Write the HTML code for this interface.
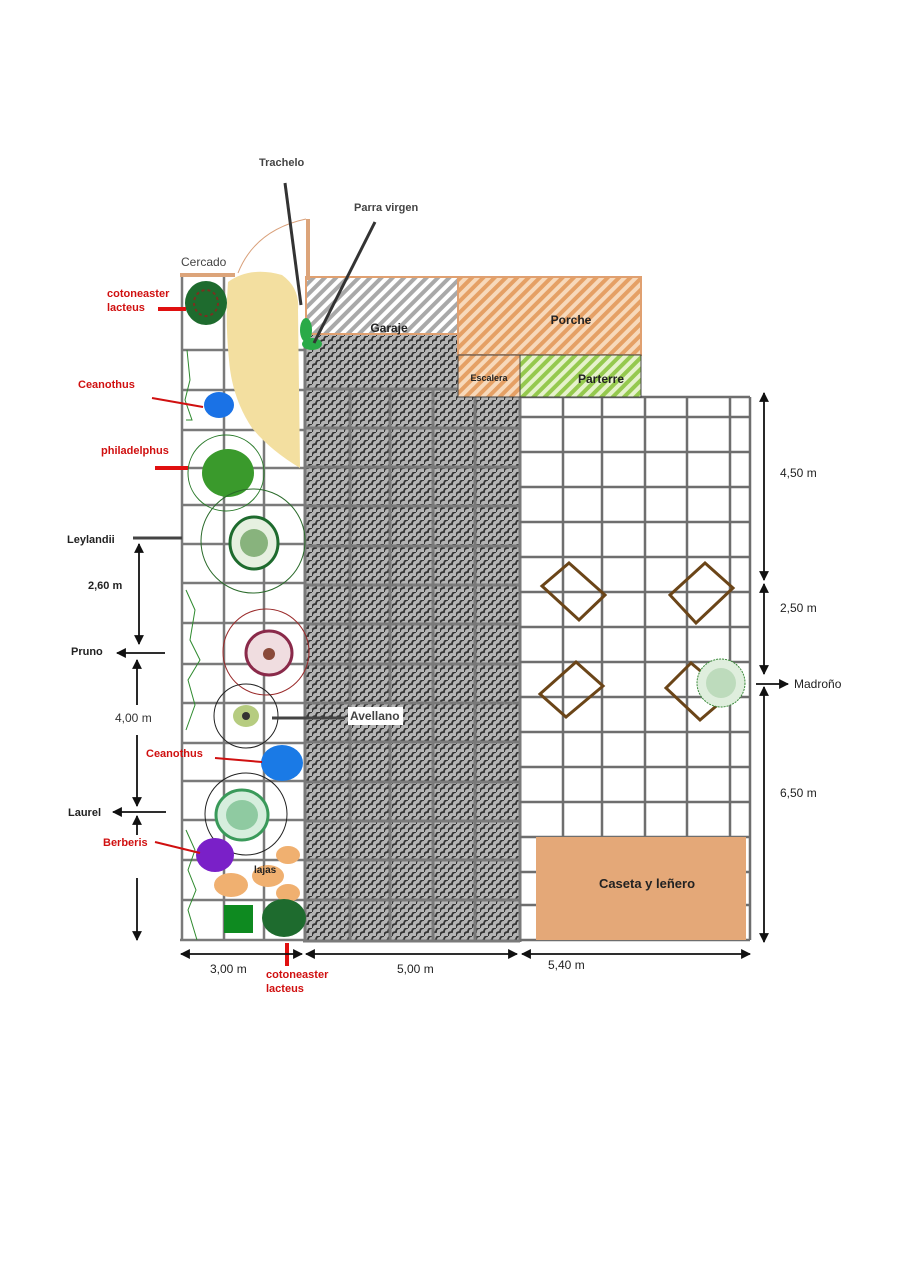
<!DOCTYPE html>
<html><head><meta charset="utf-8"><style>
html,body{margin:0;padding:0;background:#fff;}
svg{display:block;}
text{font-family:"Liberation Sans",sans-serif;}
</style></head><body>
<svg width="900" height="1273" viewBox="0 0 900 1273" xmlns="http://www.w3.org/2000/svg">
<defs>
<pattern id="pav" width="8" height="8" patternUnits="userSpaceOnUse">
<rect width="8" height="8" fill="#b4b4b4"/>
<path d="M0 8 Q0 4 4 4 Q4 0 8 0" fill="none" stroke="#333" stroke-width="1.8"/>
</pattern>
<pattern id="hgray" width="8" height="8" patternUnits="userSpaceOnUse" patternTransform="rotate(45)">
<rect width="8" height="8" fill="#fff"/><rect width="4" height="8" fill="#a9a9a9"/>
</pattern>
<pattern id="horange" width="8" height="8" patternUnits="userSpaceOnUse" patternTransform="rotate(45)">
<rect width="8" height="8" fill="#f7d9bb"/><rect width="4" height="8" fill="#e5a065"/>
</pattern>
<pattern id="hgreen" width="8" height="8" patternUnits="userSpaceOnUse" patternTransform="rotate(45)">
<rect width="8" height="8" fill="#e6f2cc"/><rect width="4" height="8" fill="#95c94e"/>
</pattern>
<marker id="ar" viewBox="0 0 10 10" refX="9" refY="5" markerWidth="5.5" markerHeight="5.5" orient="auto-start-reverse"><path d="M0 0L10 5L0 10z" fill="#111"/></marker>
</defs>

<g stroke="#7a7a7a" stroke-width="2.5">
<line x1="182" y1="277" x2="182" y2="940"/><line x1="224" y1="277" x2="224" y2="940"/><line x1="264" y1="277" x2="264" y2="940"/>
<line x1="182" y1="350" x2="305" y2="350"/><line x1="182" y1="390" x2="305" y2="390"/><line x1="182" y1="430" x2="305" y2="430"/>
<line x1="182" y1="468" x2="305" y2="468"/><line x1="182" y1="505" x2="305" y2="505"/><line x1="182" y1="544" x2="305" y2="544"/>
<line x1="182" y1="583" x2="305" y2="583"/><line x1="182" y1="623" x2="305" y2="623"/><line x1="182" y1="664" x2="305" y2="664"/>
<line x1="182" y1="703" x2="305" y2="703"/><line x1="182" y1="743" x2="305" y2="743"/><line x1="182" y1="781" x2="305" y2="781"/>
<line x1="182" y1="820" x2="305" y2="820"/><line x1="182" y1="860" x2="305" y2="860"/><line x1="182" y1="900" x2="305" y2="900"/>
<line x1="180" y1="940" x2="305" y2="940"/>
</g>

<rect x="305" y="335" width="215" height="607" fill="url(#pav)"/>
<rect x="458" y="335" width="62" height="62" fill="#fff"/>
<g stroke="#7a7a7a" stroke-width="3">
<line x1="305" y1="335" x2="305" y2="942"/><line x1="350" y1="390" x2="350" y2="942"/><line x1="390" y1="390" x2="390" y2="942"/>
<line x1="433" y1="390" x2="433" y2="942"/><line x1="475" y1="397" x2="475" y2="942"/><line x1="520" y1="397" x2="520" y2="942"/>
<line x1="305" y1="389" x2="458" y2="389"/><line x1="305" y1="428" x2="520" y2="428"/><line x1="305" y1="467" x2="520" y2="467"/>
<line x1="305" y1="506" x2="520" y2="506"/><line x1="305" y1="546" x2="520" y2="546"/><line x1="305" y1="585" x2="520" y2="585"/>
<line x1="305" y1="624" x2="520" y2="624"/><line x1="305" y1="664" x2="520" y2="664"/><line x1="305" y1="703" x2="520" y2="703"/>
<line x1="305" y1="742" x2="520" y2="742"/><line x1="305" y1="782" x2="520" y2="782"/><line x1="305" y1="821" x2="520" y2="821"/>
<line x1="305" y1="860" x2="520" y2="860"/><line x1="305" y1="900" x2="520" y2="900"/><line x1="303" y1="941" x2="520" y2="941"/>
</g>

<g stroke="#6e6e6e" stroke-width="2.5">
<line x1="563" y1="397" x2="563" y2="940"/><line x1="602" y1="397" x2="602" y2="940"/><line x1="645" y1="397" x2="645" y2="940"/>
<line x1="687" y1="397" x2="687" y2="940"/><line x1="730" y1="397" x2="730" y2="940"/><line x1="750" y1="397" x2="750" y2="940"/>
<line x1="520" y1="397" x2="750" y2="397"/>
<line x1="520" y1="417" x2="750" y2="417"/><line x1="520" y1="452" x2="750" y2="452"/><line x1="520" y1="487" x2="750" y2="487"/>
<line x1="520" y1="522" x2="750" y2="522"/><line x1="520" y1="557" x2="750" y2="557"/><line x1="520" y1="592" x2="750" y2="592"/>
<line x1="520" y1="627" x2="750" y2="627"/><line x1="520" y1="662" x2="750" y2="662"/><line x1="520" y1="697" x2="750" y2="697"/>
<line x1="520" y1="732" x2="750" y2="732"/><line x1="520" y1="767" x2="750" y2="767"/><line x1="520" y1="802" x2="750" y2="802"/>
<line x1="520" y1="837" x2="750" y2="837"/><line x1="520" y1="872" x2="750" y2="872"/><line x1="520" y1="905" x2="750" y2="905"/>
<line x1="520" y1="940" x2="750" y2="940"/>
</g>

<rect x="306" y="277" width="152" height="57" fill="url(#hgray)" stroke="#e0a070" stroke-width="2"/>
<rect x="458" y="277" width="183" height="78" fill="url(#horange)" stroke="#e0a070" stroke-width="2"/>
<rect x="458" y="355" width="62" height="42" fill="url(#horange)" stroke="#444" stroke-width="1"/>
<rect x="520" y="355" width="121" height="42" fill="url(#hgreen)" stroke="#444" stroke-width="1"/>
<text x="389" y="332" font-size="12" font-weight="bold" fill="#222" text-anchor="middle">Garaje</text>
<text x="571" y="324" font-size="12" font-weight="bold" fill="#222" text-anchor="middle">Porche</text>
<text x="489" y="381" font-size="9" font-weight="bold" fill="#222" text-anchor="middle">Escalera</text>
<text x="601" y="383" font-size="12" font-weight="bold" fill="#222" text-anchor="middle">Parterre</text>

<line x1="180" y1="275" x2="235" y2="275" stroke="#dca47a" stroke-width="4"/>
<line x1="308" y1="219" x2="308" y2="280" stroke="#dca47a" stroke-width="4"/>
<path d="M238 273 Q255 230 306 219" fill="none" stroke="#d9a07a" stroke-width="1"/>
<text x="181" y="266" font-size="12" fill="#444">Cercado</text>

<path d="M228 282 Q250 266 282 275 Q300 288 298 310 L300 468 Q270 450 252 428 Q232 398 229 360 Q225 320 228 282Z" fill="#f3dfa0"/>

<path d="M187 350 L190 380 L185 400 L192 420 L186 420 M186 590 L195 610 L190 640 L200 660 L188 680 L195 705 L186 730 M186 830 L195 850 L188 870 L196 890 L188 910 L197 940" fill="none" stroke="#2e8a2e" stroke-width="1"/>

<ellipse cx="206" cy="303" rx="21" ry="22" fill="#1e6b2e"/>
<ellipse cx="206" cy="303" rx="12" ry="13" fill="none" stroke="#7a3020" stroke-width="2" stroke-dasharray="3 3"/>
<ellipse cx="219" cy="405" rx="15" ry="13" fill="#1a72e6"/>
<circle cx="226" cy="473" r="38" fill="none" stroke="#2a7a2a" stroke-width="1"/>
<ellipse cx="228" cy="473" rx="26" ry="24" fill="#3a9a2c"/>
<circle cx="253" cy="541" r="52" fill="none" stroke="#2a6a2a" stroke-width="1"/>
<ellipse cx="254" cy="543" rx="24" ry="26" fill="#e6f0e0" stroke="#1e6b2e" stroke-width="3"/>
<ellipse cx="254" cy="543" rx="14" ry="14" fill="#4a8a3a" opacity=".6"/>
<circle cx="266" cy="652" r="43" fill="none" stroke="#9a2a2a" stroke-width="1"/>
<ellipse cx="269" cy="653" rx="23" ry="22" fill="#f0dde0" stroke="#8a2a4a" stroke-width="3"/>
<circle cx="269" cy="654" r="6" fill="#8a4a3a"/>
<circle cx="246" cy="716" r="32" fill="none" stroke="#222" stroke-width="1"/>
<ellipse cx="246" cy="716" rx="13" ry="11" fill="#b6cc80"/>
<circle cx="246" cy="716" r="4" fill="#333"/>
<ellipse cx="282" cy="763" rx="21" ry="18" fill="#1a7ae6"/>
<circle cx="246" cy="814" r="41" fill="none" stroke="#222" stroke-width="1"/>
<ellipse cx="242" cy="815" rx="26" ry="25" fill="#d6eedd" stroke="#3a9a5a" stroke-width="3"/>
<ellipse cx="242" cy="815" rx="16" ry="15" fill="#5fb27a" opacity=".6"/>
<ellipse cx="215" cy="855" rx="19" ry="17" fill="#7a20c8"/>
<ellipse cx="288" cy="855" rx="12" ry="9" fill="#f0b070"/>
<ellipse cx="231" cy="885" rx="17" ry="12" fill="#f0b070"/>
<ellipse cx="268" cy="876" rx="16" ry="11" fill="#f0b070"/>
<ellipse cx="288" cy="893" rx="12" ry="9" fill="#f0b070"/>
<text x="254" y="873" font-size="10" font-weight="bold" fill="#222">lajas</text>
<rect x="224" y="905" width="29" height="28" fill="#0e8a20"/>
<ellipse cx="284" cy="918" rx="22" ry="19" fill="#1e6b2e"/>
<ellipse cx="306" cy="330" rx="6" ry="12" fill="#2aaa48"/>
<ellipse cx="312" cy="344" rx="10" ry="6" fill="#2aaa48"/>

<g fill="none" stroke="#6b4518" stroke-width="3">
<polygon points="569,563 605,595 579,620 542,586"/>
<polygon points="705,563 733,588 696,623 670,595"/>
<polygon points="576,662 603,686 566,717 540,694"/>
<polygon points="691,663 729,695 700,720 666,688"/>
</g>
<circle cx="721" cy="683" r="24" fill="#dfeedd" stroke="#3a8a3a" stroke-width="1" stroke-dasharray="2 1"/>
<circle cx="721" cy="683" r="15" fill="#9cc89c" opacity=".5"/>

<rect x="536" y="837" width="210" height="103" fill="#e4a878"/>
<text x="647" y="888" font-size="13" font-weight="bold" fill="#222" text-anchor="middle">Caseta y leñero</text>

<line x1="285" y1="183" x2="301" y2="305" stroke="#333" stroke-width="3"/>
<line x1="375" y1="222" x2="314" y2="343" stroke="#333" stroke-width="3"/>
<text x="259" y="166" font-size="11" font-weight="bold" fill="#444">Trachelo</text>
<text x="354" y="211" font-size="11" font-weight="bold" fill="#444">Parra virgen</text>
<line x1="158" y1="309" x2="186" y2="309" stroke="#e01010" stroke-width="4"/>
<line x1="152" y1="398" x2="203" y2="407" stroke="#d01010" stroke-width="2"/>
<line x1="155" y1="468" x2="188" y2="468" stroke="#e01010" stroke-width="4"/>
<line x1="215" y1="758" x2="262" y2="762" stroke="#d01010" stroke-width="2"/>
<line x1="155" y1="842" x2="200" y2="853" stroke="#d01010" stroke-width="2"/>
<line x1="287" y1="943" x2="287" y2="966" stroke="#e01010" stroke-width="4"/>
<line x1="133" y1="538" x2="182" y2="538" stroke="#444" stroke-width="3"/>
<line x1="272" y1="718" x2="345" y2="718" stroke="#444" stroke-width="3"/>
<rect x="348" y="707" width="55" height="18" fill="#fff"/>
<text x="350" y="720" font-size="12" font-weight="bold" fill="#444">Avellano</text>

<g font-size="11" font-weight="bold" fill="#d01010">
<text x="107" y="297">cotoneaster</text><text x="107" y="311">lacteus</text>
<text x="78" y="388">Ceanothus</text>
<text x="101" y="454">philadelphus</text>
<text x="146" y="757">Ceanothus</text>
<text x="103" y="846">Berberis</text>
<text x="266" y="978">cotoneaster</text><text x="266" y="992">lacteus</text>
</g>
<g font-size="11" font-weight="bold" fill="#222">
<text x="67" y="543">Leylandii</text>
<text x="71" y="655">Pruno</text>
<text x="68" y="816">Laurel</text>
<text x="88" y="589">2,60 m</text>
</g>
<text x="115" y="722" font-size="12" fill="#333">4,00  m</text>

<g stroke="#111" stroke-width="1.8" fill="none">
<line x1="139" y1="544" x2="139" y2="644" marker-start="url(#ar)" marker-end="url(#ar)"/>
<line x1="165" y1="653" x2="117" y2="653" marker-end="url(#ar)"/>
<line x1="137" y1="660" x2="137" y2="705" marker-start="url(#ar)"/>
<line x1="137" y1="735" x2="137" y2="806" marker-end="url(#ar)"/>
<line x1="166" y1="812" x2="113" y2="812" marker-end="url(#ar)"/>
<line x1="137" y1="816" x2="137" y2="835" marker-start="url(#ar)"/>
<line x1="137" y1="878" x2="137" y2="940" marker-end="url(#ar)"/>
<line x1="181" y1="954" x2="302" y2="954" marker-start="url(#ar)" marker-end="url(#ar)"/>
<line x1="306" y1="954" x2="517" y2="954" marker-start="url(#ar)" marker-end="url(#ar)"/>
<line x1="522" y1="954" x2="750" y2="954" marker-start="url(#ar)" marker-end="url(#ar)"/>
<line x1="764" y1="393" x2="764" y2="580" marker-start="url(#ar)" marker-end="url(#ar)"/>
<line x1="764" y1="584" x2="764" y2="674" marker-start="url(#ar)" marker-end="url(#ar)"/>
<line x1="764" y1="687" x2="764" y2="942" marker-start="url(#ar)" marker-end="url(#ar)"/>
<line x1="756" y1="684" x2="788" y2="684" marker-end="url(#ar)"/>
</g>
<g font-size="12" fill="#222">
<text x="210" y="973">3,00 m</text>
<text x="397" y="973">5,00 m</text>
<text x="548" y="969">5,40 m</text>
<text x="780" y="477">4,50 m</text>
<text x="780" y="612">2,50 m</text>
<text x="780" y="797">6,50 m</text>
<text x="794" y="688">Madroño</text>
</g>
</svg>
</body></html>
